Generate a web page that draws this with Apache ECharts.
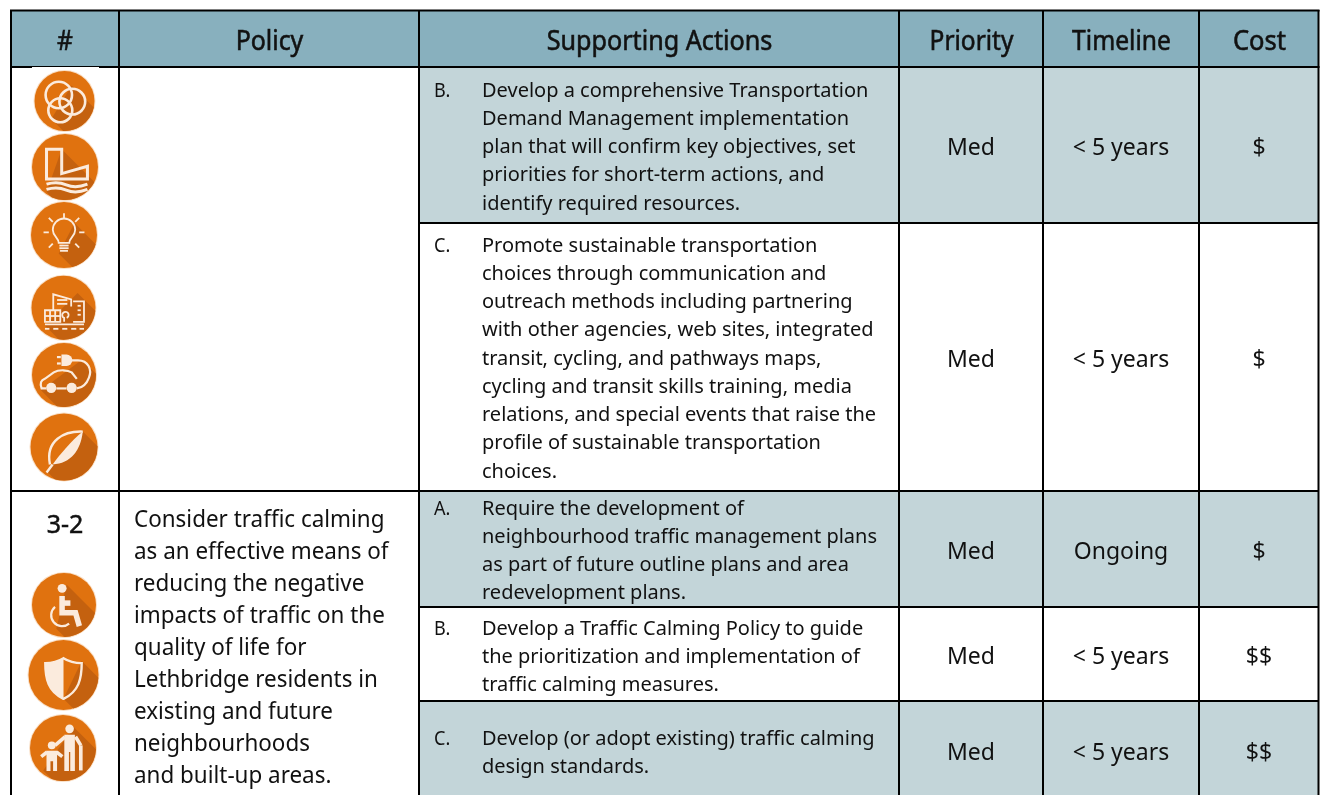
<!DOCTYPE html>
<html><head><meta charset="utf-8">
<style>html,body{margin:0;padding:0;background:#fff}#c{width:1321px;height:795px}</style>
<script src="https://cdn.jsdelivr.net/npm/echarts@6/dist/echarts.min.js"></script>
</head><body><div id="c"></div>
<script>
// ---- table content ----
const headers = ['#', 'Policy', 'Supporting Actions', 'Priority', 'Timeline', 'Cost'];
const letters = ['B.', 'C.', 'A.', 'B.', 'C.'];
const actionB1 = ['Develop a comprehensive Transportation','Demand Management implementation','plan that will confirm key objectives, set','priorities for short-term actions, and','identify required resources.'];
const actionC1 = ['Promote sustainable transportation','choices through communication and','outreach methods including partnering','with other agencies, web sites, integrated','transit, cycling, and pathways maps,','cycling and transit skills training, media','relations, and special events that raise the','profile of sustainable transportation','choices.'];
const actionA2 = ['Require the development of','neighbourhood traffic management plans','as part of future outline plans and area','redevelopment plans.'];
const actionB2 = ['Develop a Traffic Calming Policy to guide','the prioritization and implementation of','traffic calming measures.'];
const actionC2 = ['Develop (or adopt existing) traffic calming','design standards.'];
const actions = [actionB1, actionC1, actionA2, actionB2, actionC2];
const priorities = ['Med','Med','Med','Med','Med'];
const timelines = ['< 5 years','< 5 years','Ongoing','< 5 years','< 5 years'];
const costs = ['$','$','$','$$','$$'];
const policyNumber = '3-2';
const policyLines = ['Consider traffic calming','as an effective means of','reducing the negative','impacts of traffic on the','quality of life for','Lethbridge residents in','existing and future','neighbourhoods','and built-up areas.'];

// ---- layout & style ----
const COLX = [11, 119, 419, 899, 1043, 1199, 1318.5];
const ROWY = [11, 67, 223, 491, 607, 701, 796];
const shaded = [true, false, true, false, true];
const FONT = '"Noto Sans","Open Sans",sans-serif';
const C = {head:'#88B0BE', shade:'#C3D5D9', ink:'#111', orange:'#E0720F', dark:'#C4610F', glyph:'#FBEBDD'};
const FS = 20, LH = 28.25, SX = 1;

function shadow(p1, p2, mids) {
  const exit = p => { const dx=p[0]-50, dy=p[1]-50, b=dx+dy, c=dx*dx+dy*dy-2500; const t=(-b+Math.sqrt(b*b-2*c))/2; return [p[0]+t,p[1]+t]; };
  const e1=exit(p1), e2=exit(p2);
  return `M${p1[0]} ${p1[1]}L${e1[0]} ${e1[1]}A50 50 0 0 1 ${e2[0]} ${e2[1]}L${p2[0]} ${p2[1]}` + (mids||'') + 'Z';
}
const ring=(x,y,r)=>`M${x-r} ${y}A${r} ${r} 0 1 0 ${x+r} ${y}A${r} ${r} 0 1 0 ${x-r} ${y}Z`;
const BOX='M0 0M100 100';
const ICONS = [
 {c:[64.5,101],r:30, sh:shadow([62,24],[28,80]), mask:true,
  lines:[ring(40.5,40,22),ring(63,51,21.5),ring(43,65.5,20)], lw:2.6},
 {c:[65,167],r:33, sh:shadow([45,23],[22,88]),
  lines:['M22 23H45V60L84 49V68H22Z','M22 76Q38 71 52 77T84 76','M22 84Q38 79 52 85T84 84'], lw:3},
 {c:[64,235],r:33, sh:shadow([66,32],[42,78]),
  lines:['M42 62C42 54 33 52 33 42A17 17 0 0 1 67 42C67 52 58 54 58 62Z','M43 66H57','M43 70H57','M44 74H56','M50 17V25','M27 24L33 30','M73 24L67 30','M19 46H27','M73 46H81','M27 69L33 63','M73 69L67 63'], lw:1.8},
 {c:[63.5,307.7],r:32, sh:shadow([72,27],[21,78]),
  lines:['M21 54H45V72H21Z','M29 54V72','M37 54V72','M21 63H45','M34 54V29L62 37V48','M65 40H82V72H65','M40 38H56','M40 44H56','M72 47H77','M72 54H77','M72 61H77','M21 76H82','M21 83H28','M34 83H42','M48 83H56','M62 83H70','M75 83H82','M55 66A5 5 0 1 0 51 66V72'], lw:1.8},
 {c:[64,375],r:32, sh:shadow([78,26],[14,74]),
  lines:['M22 71H15C12 62 14 59 20 56L34 46C42 41 56 42 62 46L70 56','M38 71H54','M60 27H72C88 27 94 42 89 54C85 65 78 70 70 71','M45 22H39','M45 32H39'], fills:[ring(30,70,8),ring(62,70,8),'M46 18H54A9 9 0 0 1 54 36H46Z'], lw:2.2},
 {c:[64,447],r:33.5, sh:shadow([78,27],[24,86]),
  lines:['M78 27C50 26 22 40 29 76','M33 76L24 88'], fills:['M78 27C75 55 60 75 33 76C45 60 60 42 78 27Z'], lw:2.4},
 {c:[64,605],r:32, sh:shadow([54,18],[38,87]),
  lines:['M47 36V62H68L74 83','M47 47H60'], thin:['M36 53A17 17 0 1 0 58 79'], fills:[ring(47,24,7)], lw:5.5},
 {c:[63.5,675],r:35, sh:shadow([76,30],[50,84]),
  lines:['M50 26C42 31 33 33 24 33C24 55 28 74 50 84C72 74 76 55 76 33C67 33 58 31 50 26Z'], fills:['M50 26C42 31 33 33 24 33C24 55 28 74 50 84Z'], lw:2.4},
 {c:[63,748],r:33, sh:shadow([66,18],[20,84]),
  lines:['M53 33L38 46','M69 33L77 46','M77 46V84','M26 56L17 63','M40 56L49 63'], fills:[ring(60,21,6.5),'M52 30H68V85H61V56H59V85H52Z',ring(33,46,6),'M25 54H41V85H35V70H31V85H25Z'], lw:3.6}
];

const rects=[], lines=[], texts=[];
// header & shaded cells
for (let i=0;i<6;i++) rects.push({x0:COLX[i],x1:COLX[i+1],y0:ROWY[0],y1:ROWY[1],fill:C.head});
shaded.forEach((s,i)=>{ if(s) rects.push({x0:COLX[2],x1:COLX[6],y0:ROWY[i+1],y1:ROWY[i+2],fill:C.shade}); });

const line=(x0,y0,x1,y1,w)=>lines.push({x0,y0,x1,y1,w});
line(10,10.5,1319.5,10.5,2); line(10,67,1319.5,67,2);
COLX.forEach(x=>line(x,10,x,795,2));
line(419,223,1318.5,223,2); line(10,491,1318.5,491,2); line(419,607,1318.5,607,2); line(419,701,1318.5,701,2);

const T=(str,x,y,o)=>texts.push(Object.assign({str,x,y},o));
// header
const HX=[65,269.5,659.5,971.5,1121.5,1259.5];
const HSX=[0.93,0.94,0.95,0.925,0.93,0.965];
headers.forEach((h,i)=>T(h,HX[i],42.5,{size:26.5,stroke:0.55,align:'center',sx:HSX[i]}));
// actions
const firstY=[91,246,509,629,739];
actions.forEach((ls,r)=>{
  T(letters[r],434,firstY[r]+0.5,{size:19,align:'left',sx:0.95});
  ls.forEach((l,k)=>T(l,482,firstY[r]+k*LH,{size:FS,align:'left',sx:SX}));
});
const midY=[148.5,360.5,552.5,657.5,753.5];
midY.forEach((y,r)=>{
  T(priorities[r],971,y,{size:23,align:'center',sx:SX});
  T(timelines[r],1121,y,{size:23,align:'center',sx:SX});
  T(costs[r],1259,y,{size:23,align:'center',sx:SX});
});
T(policyNumber,65,526,{size:25,stroke:0.5,align:'center',sx:1});
policyLines.forEach((l,k)=>T(l,134,520+k*32,{size:23,align:'left',sx:0.975}));

const chart=echarts.init(document.getElementById('c'));
chart.setOption({
  animation:false,
  grid:{left:0,right:0,top:0,bottom:0},
  xAxis:{type:'value',min:0,max:1321,show:false},
  yAxis:{type:'value',min:0,max:795,inverse:true,show:false},
  series:[
   {type:'custom',coordinateSystem:'cartesian2d',clip:false,data:rects.map((_,i)=>[i]),
    renderItem(p,api){const d=rects[p.dataIndex],a=api.coord([d.x0,d.y0]),b=api.coord([d.x1,d.y1]);
      return {type:'rect',shape:{x:a[0],y:a[1],width:b[0]-a[0],height:b[1]-a[1]},style:{fill:d.fill}};}},
   {type:'custom',coordinateSystem:'cartesian2d',clip:false,z:3,data:lines.map((_,i)=>[i]),
    renderItem(p,api){const d=lines[p.dataIndex],a=api.coord([d.x0,d.y0]),b=api.coord([d.x1,d.y1]);
      return {type:'line',shape:{x1:a[0],y1:a[1],x2:b[0],y2:b[1]},style:{stroke:'#000',lineWidth:d.w}};}},
   {type:'custom',coordinateSystem:'cartesian2d',clip:false,z:4,data:ICONS.map((_,i)=>[i]),
    renderItem(p,api){const d=ICONS[p.dataIndex],a=api.coord(d.c),s=d.r*2,bx=a[0]-d.r,by=a[1]-d.r;
      const P=(path,style)=>({type:'path',shape:{pathData:BOX+path,x:bx,y:by,width:s,height:s,layout:'cover'},style});
      const kids=[];
      if(d.mask) kids.push({type:'rect',shape:{x:32,y:67,width:67,height:2},style:{fill:'#fff'}});
      kids.push({type:'circle',shape:{cx:a[0],cy:a[1],r:d.r+1},style:{fill:'#F9DFC6'}},
                {type:'circle',shape:{cx:a[0],cy:a[1],r:d.r},style:{fill:C.orange}},
                P(d.sh,{fill:C.dark}));
      (d.fills||[]).forEach(f=>kids.push(P(f,{fill:C.glyph})));
      d.lines.forEach(l=>kids.push(P(l,{fill:'none',stroke:C.glyph,lineWidth:d.lw,lineCap:'butt'})));
      (d.thin||[]).forEach(l=>kids.push(P(l,{fill:'none',stroke:C.glyph,lineWidth:2.2})));
      return {type:'group',children:kids};}},
   {type:'custom',coordinateSystem:'cartesian2d',clip:false,z:5,data:texts.map((_,i)=>[i]),
    renderItem(p,api){const d=texts[p.dataIndex],a=api.coord([d.x,d.y]);
      const style={text:d.str,x:0,y:0,fill:C.ink,textAlign:d.align,textVerticalAlign:'middle',font:`400 ${d.size}px ${FONT}`};
      if(d.stroke){style.stroke=C.ink;style.lineWidth=d.stroke;}
      return {type:'text',x:a[0],y:a[1],scaleX:d.sx||1,style};}}
  ]
});
</script></body></html>
